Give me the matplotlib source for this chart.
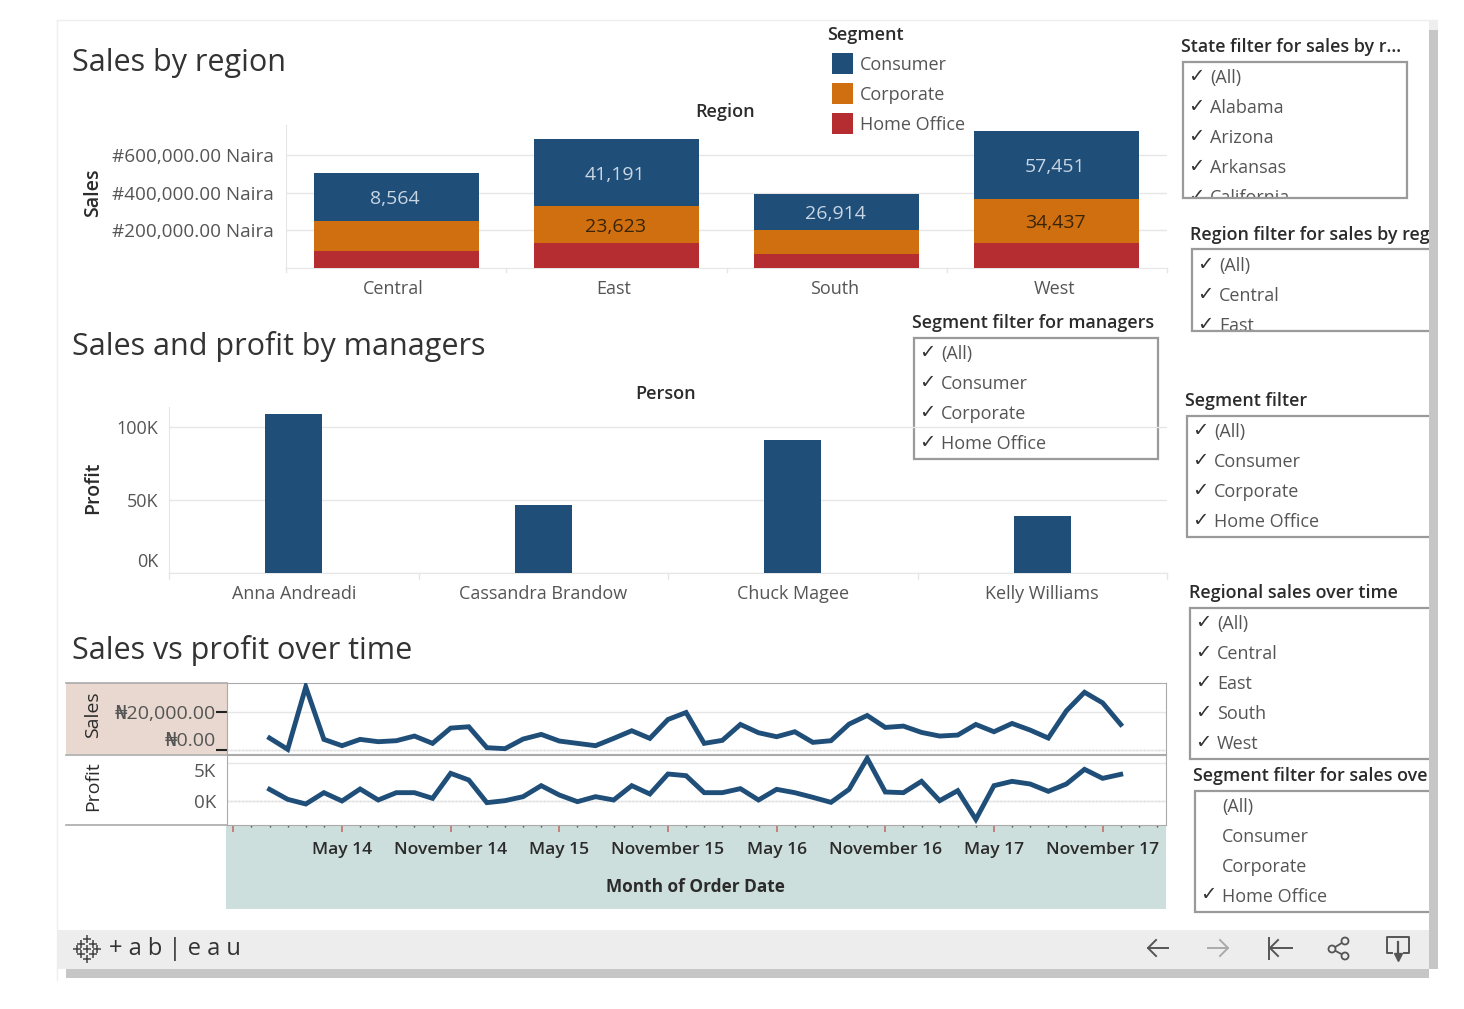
import matplotlib
matplotlib.use('Agg')
import numpy as np
import matplotlib.pyplot as plt
from matplotlib.patches import Rectangle, Circle
from matplotlib.transforms import ScaledTranslation

plt.rcParams['font.family'] = ['Open Sans', 'DejaVu Sans']

regions = ['Central', 'East', 'South', 'West']
consumer = [255000, 356000, 191000, 362000]
corporate = [160000, 197000, 128000, 234000]
home_office = [90000, 133000, 74000, 133000]
consumer_labels = ['8,564', '41,191', '26,914', '57,451']
corporate_labels = ['', '23,623', '', '34,437']

managers = ['Anna Andreadi', 'Cassandra Brandow', 'Chuck Magee', 'Kelly Williams']
manager_profit = [109000, 46500, 91000, 39000]

# Jan 14 .. Dec 17, month index 0..47
monthly_sales = [6372, 354, 33630, 5664, 2301, 5664, 4425, 4956, 7434, 3540, 11682, 12390,
                 1239, 708, 5841, 8319, 4779, 3540, 2301, 6195, 10266, 6195, 16284, 20001,
                 3540, 5133, 13629, 9204, 7080, 9735, 4071, 4956, 13806, 18408, 12036, 12744,
                 9381, 7434, 7965, 13629, 9735, 14160, 10620, 6372, 20886, 30798, 25134, 13629]
monthly_profit = [1535, 219, -395, 1097, 0, 1579, 132, 1097, 1097, 351, 3640, 2763,
                  -219, 44, 570, 2018, 789, -88, 570, 132, 2018, 921, 3553, 3333,
                  1097, 1097, 1623, 132, 1535, 1097, 482, -175, 1535, 5614, 1184, 1097,
                  2588, 44, 1360, -2412, 2018, 2588, 2237, 1272, 2237, 4167, 2982, 3509]
date_ticks = [-2, 4, 10, 16, 22, 28, 34, 40, 46]
date_labels = ['', 'May 14', 'November 14', 'May 15', 'November 15', 'May 16',
               'November 16', 'May 17', 'November 17']

BLUE = '#1f4e79'
ORANGE = '#cf6f10'
RED = '#b52d30'
GRID = '#e6e6e6'
TXT = '#555555'
DARK = '#2b2b2b'
W, H = 1464, 1009

fig = plt.figure(figsize=(W / 100, H / 100), dpi=100, facecolor='white')

# whole figure in pixels, for the dashboard chrome
bg = fig.add_axes([0, 0, 1, 1], zorder=0)
bg.set_xlim(0, W)
bg.set_ylim(H, 0)
bg.axis('off')


def px_axes(x0, y0, x1, y1):
    ax = fig.add_axes([x0 / W, 1 - y1 / H, (x1 - x0) / W, (y1 - y0) / H], zorder=1)
    ax.patch.set_alpha(0)
    for s in ax.spines.values():
        s.set_visible(False)
    return ax


def rect(x0, y0, x1, y1, color, z=1, **kw):
    bg.add_patch(Rectangle((x0, y0), x1 - x0, y1 - y0, facecolor=color, edgecolor='none', zorder=z, **kw))


def label(x, y, s, size=13, color=TXT, ha='left', va='center', weight='normal', rot=0, z=5):
    # open sans sits a bit high when centred
    dx, dy = (0, 2) if rot == 0 else (0, 0)
    bg.text(x + dx, y + dy, s, fontsize=size, color=color, ha=ha, va=va, fontweight=weight, rotation=rot, zorder=z)


def nudge(tick_labels, px_x=0, px_y=0):
    for t in tick_labels:
        t.set_transform(t.get_transform() + ScaledTranslation(px_x / 100, px_y / 100, fig.dpi_scale_trans))


# backgrounds
rect(66, 683, 227, 754, '#e8d8cf')
rect(226, 826, 1166, 909, '#cddfdc')
rect(57, 930, 1429, 969, '#ededed')
bg.plot([57, 57], [20, 980], color='#eeeeee', lw=1)
bg.plot([57, 1438], [20, 20], color='#eeeeee', lw=1)

# titles
label(72, 61, 'Sales by region', size=22, color='#333333')
label(72, 345, 'Sales and profit by managers', size=22, color='#333333')
label(72, 649, 'Sales vs profit over time', size=22, color='#333333')
label(725, 110, 'Region', size=13, color=DARK, ha='center', weight='semibold')
label(666, 392, 'Person', size=13, color=DARK, ha='center', weight='semibold')

# sales by region
ax1 = px_axes(286, 125, 1167, 268)
x = np.arange(len(regions))
home_arr = np.array(home_office)
corp_arr = np.array(corporate)
cons_arr = np.array(consumer)
ax1.bar(x, home_arr, 0.75, color=RED, zorder=3)
ax1.bar(x, corp_arr, 0.75, bottom=home_arr, color=ORANGE, zorder=3)
ax1.bar(x, cons_arr, 0.75, bottom=home_arr + corp_arr, color=BLUE, zorder=3)
for i in x:
    ax1.text(i - 0.006, home_arr[i] + corp_arr[i] + cons_arr[i] * 0.5 - 13000, consumer_labels[i], ha='center',
             va='center', color='#c9d6e3', fontsize=14, zorder=4)
    if corporate_labels[i]:
        ax1.text(i - 0.006, home_arr[i] + corp_arr[i] * 0.5 - 13000, corporate_labels[i], ha='center', va='center',
                 color='#3a2408', fontsize=14, zorder=4)
ax1.set_xlim(-0.5, 3.5)
ax1.set_ylim(0, 760000)
ax1.set_yticks([200000, 400000, 600000])
ax1.set_yticklabels(['#200,000.00 Naira', '#400,000.00 Naira', '#600,000.00 Naira'])
ax1.set_xticks(x)
ax1.set_xticklabels(regions)
ax1.tick_params(axis='y', length=0, labelsize=13.6, labelcolor=TXT, pad=8.5)
ax1.tick_params(axis='x', length=0, labelsize=13, labelcolor=TXT, pad=9)
nudge(ax1.get_xticklabels(), px_x=-2.5)
ax1.grid(axis='y', color=GRID, lw=1, zorder=0)
ax1.spines['left'].set_visible(True)
ax1.spines['left'].set_color(GRID)
ax1.spines['bottom'].set_visible(True)
ax1.spines['bottom'].set_color(GRID)
for b in np.arange(-0.5, 4):
    ax1.plot([b, b], [0, -20000], color=GRID, lw=1, clip_on=False)
label(93, 193, 'Sales', size=14, color=DARK, ha='center', weight='semibold', rot=90)

# legend
label(827, 33, 'Segment', size=13, color=DARK, weight='semibold')
for yy, c, name in zip([63, 93, 123], [BLUE, ORANGE, RED], ['Consumer', 'Corporate', 'Home Office']):
    rect(832, yy - 10.5, 853, yy + 10.5, c)
    label(860, yy, name, size=13)

# profit by manager
ax2 = px_axes(169, 407, 1167, 573)
x2 = np.arange(len(managers))
ax2.bar(x2, manager_profit, 0.23, color=BLUE, zorder=3)
ax2.set_xlim(-0.5, 3.5)
ax2.set_ylim(0, 114000)
ax2.set_yticks([0, 50000, 100000])
ax2.set_yticklabels(['0K', '50K', '100K'])
ax2.set_xticks(x2)
ax2.set_xticklabels(managers)
ax2.tick_params(axis='both', length=0, labelsize=13, labelcolor=TXT)
ax2.tick_params(axis='y', pad=7.5)
ax2.tick_params(axis='x', pad=8.5)
ax2.get_yticklabels()[0].set_va('bottom')
nudge(ax2.get_yticklabels()[:1], px_y=2)
ax2.grid(axis='y', color=GRID, lw=1, zorder=0)
ax2.spines['left'].set_visible(True)
ax2.spines['left'].set_color(GRID)
ax2.spines['bottom'].set_visible(True)
ax2.spines['bottom'].set_color(GRID)
for b in np.arange(-0.5, 4):
    ax2.plot([b, b], [0, -4000], color=GRID, lw=1, clip_on=False)
label(93, 488, 'Profit', size=14, color=DARK, ha='center', weight='semibold', rot=90)

# sales and profit over time
months = np.arange(len(monthly_sales))
xlim = (-2.35, 49.5)
ax3 = px_axes(227, 683, 1166, 754)
ax3.plot(months, monthly_sales, color=BLUE, lw=3.5, solid_joinstyle='miter', zorder=3)
ax3.set_xlim(xlim)
ax3.set_ylim(-2133, 35733)
ax3.set_yticks([0, 20000])
ax3.set_yticklabels(['₦0.00', '₦20,000.00'])
ax3.get_yticklabels()[0].set_va('bottom')
ax3.set_xticks([])
ax3.tick_params(axis='y', length=8, width=1.5, color='#222222', labelsize=14, labelcolor=TXT, pad=0)
ax3.grid(axis='y', color=GRID, lw=1, zorder=0)
ax3.axhline(0, color='#aaaaaa', lw=1, ls=':', zorder=1)

ax4 = px_axes(227, 755, 1166, 825)
ax4.plot(months, monthly_profit, color=BLUE, lw=3.5, solid_joinstyle='miter', zorder=3)
ax4.set_xlim(xlim)
ax4.set_ylim(-3158, 6053)
ax4.set_yticks([0, 5000])
ax4.set_yticklabels(['0K', '5K'])
ax4.get_yticklabels()[1].set_va('top')
nudge(ax4.get_yticklabels()[1:], px_y=2)
ax4.tick_params(axis='y', length=0, labelsize=13.5, labelcolor=TXT, pad=8)
ax4.grid(axis='y', color=GRID, lw=1, zorder=0)
ax4.axhline(0, color='#aaaaaa', lw=1, ls=':', zorder=1)
ax4.set_xticks(date_ticks)
ax4.set_xticklabels(date_labels, fontweight='semibold')
ax4.set_xticks(np.arange(-2, 50), minor=True)
ax4.tick_params(axis='x', which='major', length=5, width=1.2, color='#c2706a', labelsize=12.6, labelcolor=DARK, pad=7.5)
ax4.tick_params(axis='x', which='minor', length=1.5, width=1, color='#555555')
ax4.set_xlabel('Month of Order Date', fontsize=12.4, fontweight='bold', color=DARK, labelpad=14)
ax4.xaxis.get_label().set_x((695 - 227) / (1166 - 227))

# panel frame of the time chart
for ax in (ax3, ax4):
    for s in ax.spines.values():
        s.set_visible(True)
        s.set_color('#aaaaaa')
bg.plot([66, 227], [683, 683], color='#aaaaaa', lw=1.2, zorder=2)
bg.plot([66, 227], [754.5, 754.5], color='#aaaaaa', lw=1.2, zorder=2)
bg.plot([66, 227], [825, 825], color='#aaaaaa', lw=1.2, zorder=2)
label(93, 715, 'Sales', size=14, color=DARK, ha='center', rot=90)
label(93, 786, 'Profit', size=14, color=DARK, ha='center', rot=90)


# filter cards
def card(x0, y0, x1, y1, title, title_x, title_y, rows, first_row, checked=None):
    label(title_x, title_y, title, size=12.9, color=DARK, weight='semibold', z=5)
    for i, name in enumerate(rows):
        yy = first_row + 30 * i
        if checked is None or name in checked:
            bg.text(x0 + 13, yy, '✓', fontsize=14, color='#333333', ha='center', va='center',
                    family='DejaVu Sans', fontweight='bold', zorder=4)
        label(x0 + 27, yy, name, size=13, z=4)
    # rows that run past the frame get cut by it
    rect(x0 - 2, y1, x1 + 2, y1 + 14, 'white', z=4.5)
    bg.add_patch(Rectangle((x0, y0), x1 - x0, y1 - y0, fill=False, edgecolor='#9a9a9a', lw=1.6, zorder=4.6))


card(1183, 62, 1407, 198, 'State filter for sales by r...', 1181, 45,
     ['(All)', 'Alabama', 'Arizona', 'Arkansas', 'California'], 76)
card(1192, 249, 1460, 331, 'Region filter for sales by reg', 1190, 233, ['(All)', 'Central', 'East'], 264)
card(914, 338, 1158, 459, 'Segment filter for managers', 912, 321,
     ['(All)', 'Consumer', 'Corporate', 'Home Office'], 352)
card(1187, 416, 1460, 537, 'Segment filter', 1185, 399, ['(All)', 'Consumer', 'Corporate', 'Home Office'], 430)
card(1190, 608, 1460, 759, 'Regional sales over time', 1189, 591, ['(All)', 'Central', 'East', 'South', 'West'], 622)
card(1195, 791, 1460, 912, 'Segment filter for sales ove', 1193, 774,
     ['(All)', 'Consumer', 'Corporate', 'Home Office'], 805, checked=['Home Office'])

# toolbar
bg.text(109, 949, '+ a b | e a u', fontsize=17, color='#333333', va='center', zorder=5)
for dx, dy in [(0, -10), (-6, -5), (6, -5), (-10, 0), (0, 0), (10, 0), (-6, 5), (6, 5), (0, 10)]:
    bg.plot(87 + dx, 949 + dy, marker='+', ms=6, color='#444444', mew=1.1, zorder=5)
icon = '#555555'
bg.plot([1148, 1168], [948, 948], color=icon, lw=1.4, zorder=5)
bg.plot([1156, 1148, 1156], [940, 948, 956], color=icon, lw=1.4, zorder=5)
bg.plot([1208, 1228], [948, 948], color='#aaaaaa', lw=1.4, zorder=5)
bg.plot([1220, 1228, 1220], [940, 948, 956], color='#aaaaaa', lw=1.4, zorder=5)
bg.plot([1269, 1269], [938, 959], color=icon, lw=1.4, zorder=5)
bg.plot([1270, 1292], [948, 948], color=icon, lw=1.4, zorder=5)
bg.plot([1278, 1270, 1278], [940, 948, 956], color=icon, lw=1.4, zorder=5)
bg.plot([1345, 1332, 1345], [941, 949, 956], color=icon, lw=1.3, zorder=5)
for cx, cy in [(1345, 941), (1332, 949), (1345, 956)]:
    bg.add_patch(Circle((cx, cy), 3.5, facecolor='#ededed', edgecolor=icon, lw=1.3, zorder=6))
bg.plot([1392, 1387, 1387, 1409, 1409, 1404], [953, 953, 937, 937, 953, 953], color=icon, lw=1.4, zorder=5)
bg.plot([1398, 1398], [942, 958], color=icon, lw=1.6, zorder=5)
bg.plot(1398, 957, marker='v', ms=6, color=icon, zorder=5)

# scrollbars sit over everything and cut the right hand cards
rect(1429, 30, 1438, 969, '#c6c6c6', z=8)
rect(66, 969, 1429, 978, '#c6c6c6', z=8)
rect(1429, 20, 1438, 30, '#eeeeee', z=8)
rect(1438, 20, W, H, 'white', z=8)

fig.savefig('out.png', dpi=100)
